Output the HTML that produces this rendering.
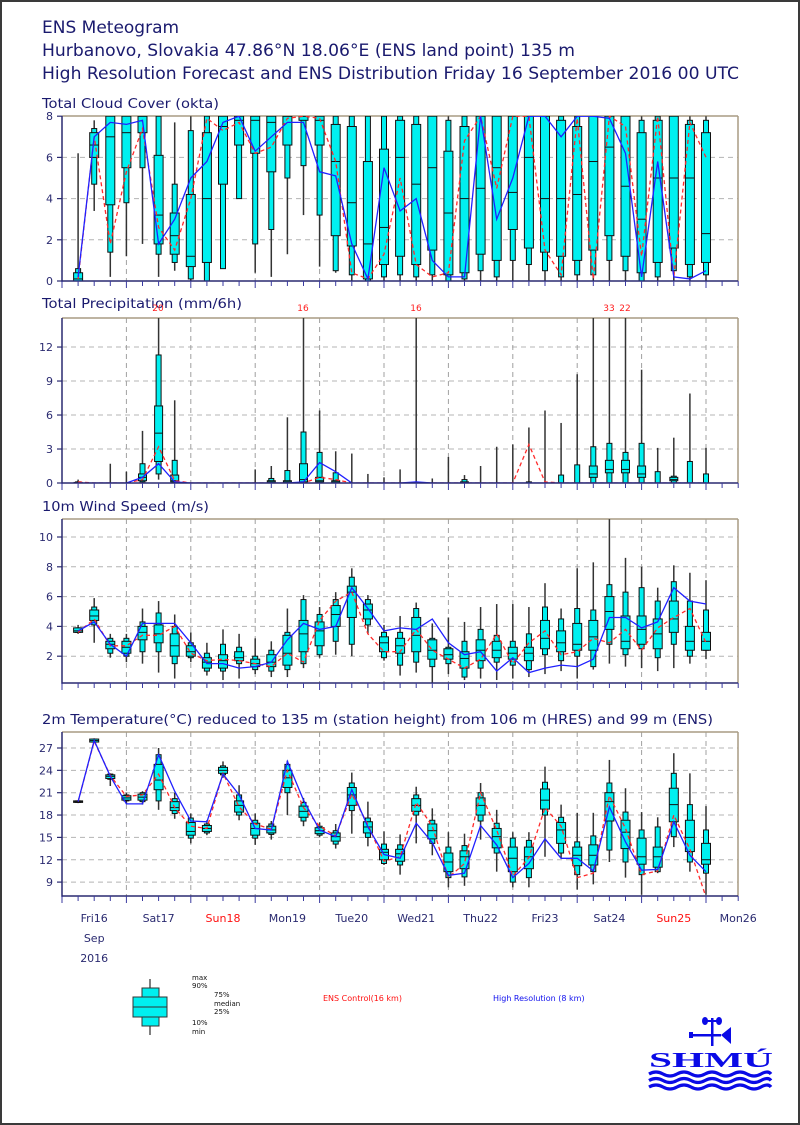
<!DOCTYPE html>
<html><head><meta charset="utf-8"><style>
html,body{margin:0;padding:0;background:#fff;}
#wrap{position:relative;width:800px;height:1125px;overflow:hidden;}
svg{display:block}
</style></head><body><div id="wrap">
<svg id="s" width="800" height="1125" viewBox="0 0 800 1125" xmlns="http://www.w3.org/2000/svg" font-family="DejaVu Sans, Liberation Sans, sans-serif">
<rect x="1" y="1" width="798" height="1123" fill="#fff" stroke="#3a3a3a" stroke-width="2"/>
<g fill="#1a1a6e">
<text x="42" y="33" font-size="17">ENS Meteogram</text>
<text x="42" y="56" font-size="17" textLength="533" lengthAdjust="spacingAndGlyphs">Hurbanovo, Slovakia 47.86°N 18.06°E (ENS land point) 135 m</text>
<text x="42" y="79" font-size="17" textLength="697" lengthAdjust="spacingAndGlyphs">High Resolution Forecast and ENS Distribution Friday 16 September 2016 00 UTC</text>
<text x="42" y="108" font-size="13" textLength="177" lengthAdjust="spacingAndGlyphs">Total Cloud Cover (okta)</text>
<text x="42" y="308" font-size="13" textLength="200" lengthAdjust="spacingAndGlyphs">Total Precipitation (mm/6h)</text>
<text x="42" y="511" font-size="13" textLength="167" lengthAdjust="spacingAndGlyphs">10m Wind Speed (m/s)</text>
<text x="42" y="724" font-size="13" textLength="671" lengthAdjust="spacingAndGlyphs">2m Temperature(°C) reduced to 135 m (station height) from 106 m (HRES) and 99 m (ENS)</text>
</g>
<g id="plots"></g>
<g id="legend">
<line x1="150" y1="979" x2="150" y2="1035" stroke="#555" stroke-width="1.5"/>
<rect x="142" y="988" width="17" height="38" fill="#00f0f0" stroke="#333" stroke-width="1"/>
<rect x="133" y="997" width="34" height="20" fill="#00f0f0" stroke="#333" stroke-width="1"/>
<line x1="133" y1="1007" x2="167" y2="1007" stroke="#333" stroke-width="1"/>
<g font-size="7" fill="#111">
<text x="192" y="980">max</text><text x="192" y="988">90%</text>
<text x="214" y="997">75%</text><text x="214" y="1006">median</text><text x="214" y="1014">25%</text>
<text x="192" y="1025">10%</text><text x="192" y="1034">min</text>
</g>
<text x="323" y="1001" font-size="8" fill="#ff1010">ENS Control(16 km)</text>
<text x="493" y="1001" font-size="8" fill="#1010ee">High Resolution (8 km)</text>
</g>
<g id="logo" fill="#0a0ae6">
<rect x="711" y="1018" width="2.5" height="28"/>
<ellipse cx="705" cy="1021" rx="3" ry="4"/><ellipse cx="719" cy="1021" rx="3" ry="4"/>
<rect x="703" y="1020" width="18" height="2"/>
<rect x="691" y="1034" width="30" height="2.5"/>
<rect x="689" y="1032" width="4" height="6"/>
<polygon points="721,1035 731,1027 731,1044"/>
<text x="649" y="1067" font-size="21" font-weight="bold" font-family="Liberation Serif, serif" textLength="124" lengthAdjust="spacingAndGlyphs">SHMÚ</text>
<g fill="none" stroke="#0a0ae6" stroke-width="3.2">
<path d="M649,1074 q7,-4 14,0 t14,0 t14,0 t14,0 t14,0 t14,0 t14,0 t14,0 t10,0"/>
<path d="M649,1080.5 q7,-4 14,0 t14,0 t14,0 t14,0 t14,0 t14,0 t14,0 t14,0 t10,0"/>
<path d="M649,1087 q7,-4 14,0 t14,0 t14,0 t14,0 t14,0 t14,0 t14,0 t14,0 t10,0"/>
</g>
</g>
</svg>
</div>
<script>
(function(){
var NS="http://www.w3.org/2000/svg";
var root=document.getElementById('plots');
function el(t,a,p){var e=document.createElementNS(NS,t);for(var k in a)e.setAttribute(k,a[k]);(p||root).appendChild(e);return e;}
var X0=62,X1=738,PX=64.4/24;
function X(h){return X0+h*PX;}
var navy="#2a2a70";
function panel(o){
  var top=o.top,bot=o.bot;
  function Y(v){return o.y0 - (v-o.v0)*o.k;}
  var g=el('g',{});
  o.ticks.forEach(function(v){var y=Y(v);
    if(y>top+1&&y<bot-1) el('line',{x1:X0,x2:X1,y1:y,y2:y,stroke:'#b4b4b4','stroke-dasharray':'5,4','stroke-width':1},g);
    el('line',{x1:X0-5,x2:X0,y1:y,y2:y,stroke:navy,'stroke-width':1.2},g);
    el('text',{x:X0-9,y:y+4,'font-size':11,'text-anchor':'end',fill:navy},g).textContent=v;
  });
  for(var d=1;d<=10;d++){var x=X(24*d);
    el('line',{x1:x,x2:x,y1:top,y2:bot,stroke:'#a0a0a0','stroke-dasharray':'5,4','stroke-width':1},g);}
  el('line',{x1:X0,x2:X1,y1:top,y2:top,stroke:'#a89c84','stroke-width':1.5},g);
  el('line',{x1:X1,x2:X1,y1:top,y2:bot,stroke:'#a89c84','stroke-width':1.5},g);
  var id='c'+top;
  var cp=el('clipPath',{id:id},g);el('rect',{x:X0,y:top,width:X1-X0,height:bot-top},cp);
  var cg=el('g',{'clip-path':'url(#'+id+')'},g);
  var W1=o.w1||5,W2=o.w2||9;
  o.d.forEach(function(a,i){var x=X(6*(i+1));
    el('line',{x1:x,x2:x,y1:Y(a[0]),y2:Y(a[6]),stroke:'#333','stroke-width':1.5},cg);
    if(a[5]>a[1]||o.always){
      el('rect',{x:x-W1/2,y:Y(a[5]),width:W1,height:Math.max(Y(a[1])-Y(a[5]),1.5),fill:'#00f0f0',stroke:'#111','stroke-width':1},cg);
      el('rect',{x:x-W2/2,y:Y(a[4]),width:W2,height:Math.max(Y(a[2])-Y(a[4]),1.5),fill:'#00f0f0',stroke:'#111','stroke-width':1},cg);
      el('line',{x1:x-W2/2,x2:x+W2/2,y1:Y(a[3]),y2:Y(a[3]),stroke:'#111','stroke-width':1},cg);
    }
  });
  function pl(arr,attrs){var p=arr.map(function(v,i){return X(6*(i+1)).toFixed(1)+','+Y(v).toFixed(1);}).join(' ');
    var a={points:p,fill:'none'};for(var k in attrs)a[k]=attrs[k];el('polyline',a,cg);}
  pl(o.ctl,{stroke:'#ff2a2a','stroke-width':1.3,'stroke-dasharray':'4,3'});
  pl(o.hr,{stroke:'#2020ff','stroke-width':1.3});
  el('line',{x1:X0,x2:X0,y1:top,y2:bot+1,stroke:navy,'stroke-width':1.5},g);
  el('line',{x1:X0,x2:X1,y1:bot,y2:bot,stroke:navy,'stroke-width':1.5},g);
  for(var h=0;h<=252;h+=6){var x=X(h);var maj=(h%24==0);
    el('line',{x1:x,x2:x,y1:bot,y2:bot+(maj?7:5),stroke:'#3a3aa0','stroke-width':1},g);}
}
var cloud=[[0,0,0,0.1,0.4,0.6,6.2],[3.4,4.7,6,6.6,7.2,7.4,7.8],[0.2,1.4,3.7,7,8,8,8],[1.2,3.8,5.5,7.2,8,8,8],[1.8,5.5,7.2,8,8,8,8],
[0.2,1.3,1.8,3.2,6.1,8,8],[0.5,0.9,1.3,2.2,3.3,4.7,7.7],[0,0.1,0.7,1.2,4.2,7.3,8],[0,0,0.9,4,7.2,8,8],[0.6,0.6,4.7,7.5,8,8,8],
[4,4,6.6,7.8,8,8,8],[0.4,1.8,6.2,7.8,8,8,8],[0.2,2.5,5.3,7.7,8,8,8],[1.3,5,6.6,8,8,8,8],[3.2,5.6,7.8,8,8,8,8],
[0.7,3.2,6.6,7.8,8,8,8],[0.4,0.5,2.2,5.8,7.6,8,8],[0,0.3,1.7,3.8,7.5,8,8],[0,0,0.1,1.8,5.8,8,8],[0,0.2,0.8,2.6,6.4,8,8],
[0,0.3,1.2,6,7.8,8,8],[0,0.2,0.8,4.7,7.6,8,8],[0,0.3,1.5,5.5,8,8,8],[0,0,0.3,3.3,6.3,7.8,8],[0,0.1,0.4,4,7.5,8,8],
[0,0.5,1.3,4.5,8,8,8],[0,0.2,1,5.5,8,8,8],[0,1,2.5,4.3,8,8,8],[0,0.8,1.6,6,8,8,8],[0,0.5,1.4,4,8,8,8],
[0,0.2,1.2,4,7.8,8,8],[0,0.3,1,4.2,7.5,8,8],[0,0.3,1.5,5.8,8,8,8],[0,1,2.2,6.5,8,8,8],[0,0.5,1.2,4.6,8,8,8],
[0,0,0.4,3,7.2,7.8,8],[0,0.2,0.9,5,7.8,8,8],[0,0.5,1.6,5,8,8,8],[0,0.2,0.8,5,7.6,7.8,8],[0,0.3,0.9,2.3,7.2,7.8,8]];
var cloudH=[0.2,7,7.7,7.6,7.8,1.8,3,5,5.8,7.7,8,6.3,7,7.7,7.7,5.3,5.1,1.8,0.1,5.5,3.4,4,1,0.2,0.2,8,3,5,8,8,7,8,8,7.9,6.2,0.2,5.8,0.2,0.1,0.5];
var cloudC=[0.1,7,1.8,5.3,7.4,2.6,1.5,4,7.9,7.3,7.7,6.2,6.5,7.9,8,7.9,5.8,0.4,0.1,1.3,5,0.8,0.2,0.4,6.8,8,4.5,8,8,1.5,0.3,7.9,0.1,8,7.5,1.2,8,0.2,7.7,6];
panel({top:116,bot:281,y0:281,v0:0,k:20.6,ticks:[0,2,4,6,8],d:cloud,hr:cloudH,ctl:cloudC,always:true});
function w(m,p90,p75,p25){return [0,0,p25||0,((p75||0)+(p25||0))/2,p75||0,p90||0,m];}
var pr=[w(0.3,0.1,0.05),[0,0,0,0,0,0,0],w(1.7),w(1.0),[0,0.1,0.2,0.5,0.8,1.7,4.6],[0.3,0.8,1.9,4.4,6.8,11.3,20],[0,0,0.1,0.2,0.7,2.0,7.3],
[0,0,0,0,0,0,0],[0,0,0,0,0,0,0],[0,0,0,0,0,0,0],[0,0,0,0,0,0,0],w(1.2),w(1.5,0.4,0.2),w(5.8,1.1,0.2),[0,0,0.1,0.3,1.7,4.5,16],
[0,0,0.1,0.2,0.5,2.7,6.4],w(2.8,0.9,0.2),w(2.6),w(0.8),w(0.5),w(1.2),w(16),w(0.4),w(2.3),w(0.7,0.3,0.1),
w(1.5),w(3.2),w(3.4),w(4.9,0.1),w(6.4),w(5.3,0.7),w(9.6,1.6),[0,0,0.5,0.8,1.5,3.2,16],[0,0,0.9,1.2,2.0,3.5,33],[0,0,0.9,1.2,2.0,2.7,22],
[0,0,0.5,0.8,1.5,3.5,10],w(3.1,1.0),[0,0,0.2,0.3,0.5,0.6,4.0],w(7.9,1.9),w(3.1,0.8)];
var prH=[0,0,0,0,0.5,1.7,0.1,0,0,0,0,0,0,0,0.1,1.8,1.0,0,0,0,0,0.1,0,0,0,0,0,0,0,0,0,0,0,0,0,0,0,0,0,0];
var prC=[0.1,0,0,0,0.3,3.2,0.2,0,0,0,0,0,0,0,0,0.5,0.3,0,0,0,0,0,0,0,0,0,0,0,3.4,0.1,0,0,0,0,0,0,0,0,0,0];
panel({top:318,bot:483,y0:483,v0:0,k:11.33,ticks:[0,3,6,9,12],d:pr,hr:prH,ctl:prC,w1:5,w2:8});
[[158,'20'],[303,'16'],[416,'16'],[609,'33'],[625,'22']].forEach(function(a){
  el('text',{x:a[0],y:311,'font-size':9,'text-anchor':'middle',fill:'#ff2020'}).textContent=a[1];});
function b(mn,mx,p10,p90,p25,p75,md){return [mn,p10,p25,md,p75,p90,mx];}
var wind=[[3.5,3.6,3.6,3.7,3.9,3.9,4.1],[2.9,4.1,4.4,4.7,5.1,5.3,5.9],[1.9,2.2,2.5,2.8,3.0,3.2,3.5],[1.6,2.0,2.2,2.6,3.0,3.2,3.5],[1.5,2.3,3.1,3.6,4.0,4.3,5.2],
[0.9,2.3,2.9,3.5,4.1,4.9,5.7],[0.5,1.5,2.0,2.7,3.5,4.0,4.8],[1.6,1.9,2.0,2.3,2.7,2.9,3.6],[0.7,1.0,1.2,1.6,1.9,2.2,2.9],[0.4,1.0,1.2,1.7,2.1,2.8,3.8],
[0.5,1.5,1.7,1.9,2.3,2.6,3.5],[0.8,1.1,1.3,1.5,1.8,2.0,3.2],[0.6,1.0,1.3,1.6,2.1,2.4,3.0],[0.6,1.1,1.4,2.2,3.4,3.6,5.2],[1.2,1.5,2.3,3.5,4.4,5.8,6.1],
[1.9,2.1,2.7,3.7,4.3,4.8,5.3],[2.1,3.0,4.0,4.8,5.4,5.8,6.3],[2.0,2.8,4.6,6.3,6.7,7.3,7.9],[3.5,4.1,4.5,5.1,5.5,5.8,6.1],[1.7,1.9,2.3,2.9,3.3,3.6,4.1],
[0.7,1.4,2.2,2.7,3.2,3.6,4.7],b(0.9,5.6,1.6,5.2,2.3,4.6,3.4),b(0,4.2,1.3,3.2,1.8,3.1,2.4),b(0.8,4.6,1.5,2.6,1.8,2.5,2.1),b(0.4,4.3,0.6,3.0,1.2,2.3,1.85),
b(0.5,5.3,1.2,3.8,1.7,3.1,2.4),b(0.4,5.5,1.6,3.4,1.9,3.0,2.4),b(0.5,5.5,1.4,3.0,1.8,2.6,2.2),b(0.6,5.3,1.1,3.5,1.7,2.6,2.2),b(0.8,6.9,2.1,5.3,2.5,4.4,3.2),
b(1.0,5.2,1.7,4.5,2.3,3.7,2.9),b(0.5,7.9,2.0,5.2,2.4,4.2,2.8),b(1.1,8.3,1.3,5.1,2.4,4.4,3.3),b(1.5,11.2,2.8,6.8,3.8,6.0,5.0),b(1.3,8.6,2.1,6.3,2.5,4.7,3.0),
b(1.2,8.0,2.5,6.6,2.8,4.7,3.8),b(1.0,6.6,1.9,5.7,2.5,4.5,3.5),b(1.2,8.1,2.8,7.0,3.6,5.7,4.5),b(1.5,7.6,2.0,5.7,2.4,4.0,3.0),b(1.8,7.1,2.4,5.1,2.4,3.6,3.0)];
var windH=[3.7,4.3,2.8,2.0,4.2,4.2,4.2,2.9,1.5,1.5,1.2,1.3,1.6,3.1,4.2,3.8,4.0,6.6,5.2,3.7,3.9,3.8,4.5,2.9,2.1,2.3,1.0,1.9,0.9,1.2,1.4,1.3,1.8,4.6,4.6,3.9,4.3,6.6,5.7,5.5];
var windC=[3.6,4.5,2.7,2.7,3.4,3.4,4.0,2.2,1.7,1.8,1.7,1.5,1.3,2.2,1.6,4.4,5.7,6.3,3.5,2.3,2.3,3.8,2.4,1.8,1.2,1.8,3.5,1.5,2.9,3.7,2.1,2.3,3.2,2.9,3.8,2.4,3.9,4.6,5.2,2.9];
panel({top:519,bot:683,y0:686,v0:0,k:14.9,ticks:[2,4,6,8,10],d:wind,hr:windH,ctl:windC,w1:5,w2:9});
function t(mn,mx,p10,p90,p25,p75,md){return [mn,p10,p25,md,p75,p90,mx];}
var temp=[t(19.6,20.0,19.7,19.9,19.7,19.9,19.8),t(27.7,28.3,27.8,28.2,27.8,28.2,28.0),t(21.9,23.6,22.8,23.5,22.9,23.4,23.2),t(19.5,21.0,19.9,20.7,20.0,20.6,20.3),t(19.4,21.2,19.8,21.0,20.0,20.8,20.4),
t(18.7,27,19.9,26.1,21.4,24.8,22.7),t(17.5,21,18.2,20.2,18.6,19.8,19.0),t(14.2,18.2,14.9,17.6,15.3,17.0,15.8),t(15.3,17.3,15.6,16.8,15.8,16.6,16.2),t(23.0,25.2,23.4,24.6,23.6,24.4,24.0),
t(17.3,22.0,18.0,20.7,18.4,19.9,19.3),t(14.0,18.2,14.9,17.3,15.3,16.9,16.2),t(14.7,17.2,15.4,16.8,15.6,16.5,16.0),t(18.0,25.3,21.0,24.8,21.7,24.0,23.0),t(16.5,20.3,17.2,19.7,17.7,19.2,18.5),
t(15.0,17.0,15.3,16.5,15.5,16.3,15.9),t(13.5,16.8,14.1,15.9,14.5,15.6,15.1),t(15.5,23.7,18.6,22.3,19.3,21.7,20.7),t(13.8,19.8,15.0,17.6,15.6,17.1,16.4),t(11.3,15.8,11.5,14.1,12.0,13.4,13.0),
t(10.0,15.4,11.3,14.0,11.8,13.4,12.8),t(14.2,21.8,18.0,20.7,18.5,20.2,19.3),t(12.6,18.9,14.2,17.3,14.8,16.8,15.9),t(8.3,15.7,9.6,13.7,10.4,12.9,11.7),t(8.5,15.5,9.7,13.9,10.8,13.2,12.4),
t(14.7,22.3,17.2,21.0,18.0,20.3,19.3),t(10.4,18.7,12.9,16.9,13.6,16.2,15.1),t(8.3,15.7,9.0,14.9,10.4,13.7,12.2),t(8.3,15.7,9.6,14.6,10.8,13.7,12.4),t(12.4,24.5,18.0,22.4,18.8,21.5,20.0),
t(12.2,19.4,12.9,17.7,14.2,17.0,16.0),t(8.0,18.3,10.0,14.4,11.2,13.7,12.6),t(8.7,18.3,10.4,15.2,11.3,14.0,12.6),t(11.7,25.4,13.3,22.3,17.2,21.0,19.8),t(9.6,21.6,11.7,18.4,13.5,17.3,15.7),
t(7.3,18.4,10.0,16.0,11.4,14.9,12.4),t(10.2,17.7,10.4,16.4,11.0,13.7,12.4),t(13.7,26.3,15.1,23.6,17.1,21.6,19.4),t(10.4,23.6,11.7,19.4,13.1,17.3,15.0),t(7.3,19.2,10.2,16.0,11.4,14.2,12.0)];
var tempH=[19.8,28.0,23.2,19.5,19.5,26.1,21.2,17.2,17.1,23.5,20.7,16.2,16.0,25.2,20,16.0,15.1,21.4,16.4,12.7,12.2,16.9,14.3,9.9,10.2,16.6,14,9.6,11.5,14.8,12.2,12.2,10.5,19.1,14.4,10.6,10.7,17.1,12.6,10.4];
var tempC=[19.8,27.9,23.3,20.5,20.7,23.5,19.0,16.5,16.2,23.6,19.1,16.8,16.1,24.0,19.0,16.5,15.2,20.8,16.7,11.8,12.4,19.7,16.5,9.6,11.5,21,16,9.8,12.3,19.0,16.5,9.6,10.2,20.6,16.2,10.0,10.5,18.0,13.4,7.0];
panel({top:732,bot:896,y0:748,v0:27,k:7.45,ticks:[9,12,15,18,21,24,27],d:temp,hr:tempH,ctl:tempC,w1:5,w2:9});
var days=['Fri16','Sat17','Sun18','Mon19','Tue20','Wed21','Thu22','Fri23','Sat24','Sun25','Mon26'];
days.forEach(function(d,i){var x=X(12+24*i);
  el('text',{x:x,y:922,'font-size':11,'text-anchor':'middle',fill:(d.indexOf('Sun')==0?'#ff1010':navy)}).textContent=d;});
el('text',{x:X(12),y:942,'font-size':11,'text-anchor':'middle',fill:navy}).textContent='Sep';
el('text',{x:X(12),y:962,'font-size':11,'text-anchor':'middle',fill:navy}).textContent='2016';
})();
</script>
</body></html>
